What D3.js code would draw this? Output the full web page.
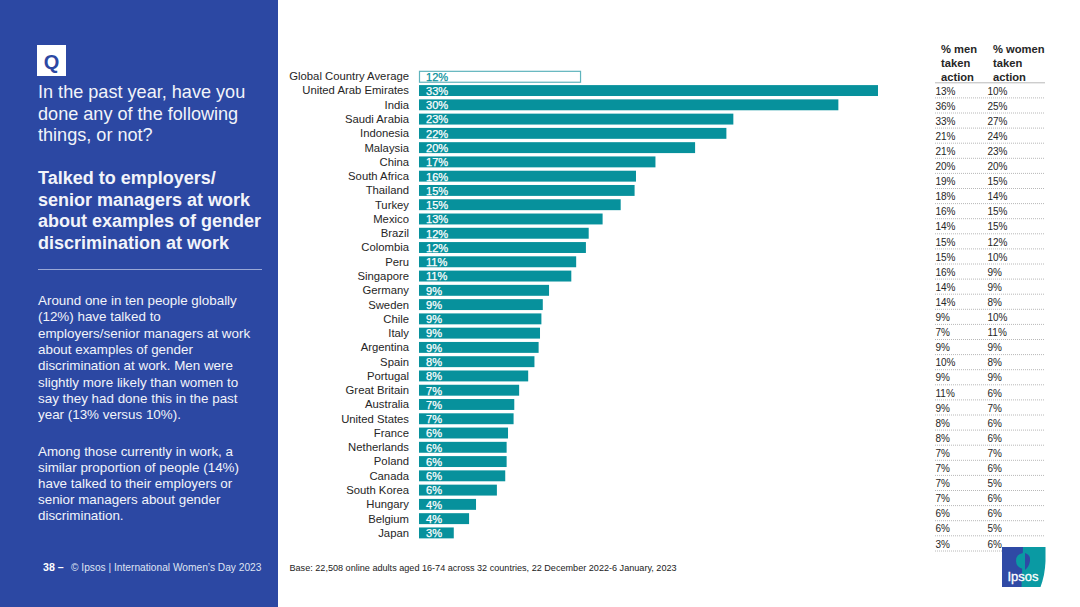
<!DOCTYPE html>
<html>
<head>
<meta charset="utf-8">
<script src="https://cdn.jsdelivr.net/npm/d3@7"></script>
<style>
  html, body { margin: 0; padding: 0; background: #fff; }
  svg { display: block; }
  text { font-family: "Liberation Sans", Arial, sans-serif; }
</style>
</head>
<body>
<div id="chart"></div>
<script>
// Data
var countries = ["Global Country Average", "United Arab Emirates", "India", "Saudi Arabia", "Indonesia", "Malaysia", "China", "South Africa", "Thailand", "Turkey", "Mexico", "Brazil", "Colombia", "Peru", "Singapore", "Germany", "Sweden", "Chile", "Italy", "Argentina", "Spain", "Portugal", "Great Britain", "Australia", "United States", "France", "Netherlands", "Poland", "Canada", "South Korea", "Hungary", "Belgium", "Japan"];
var barValues = [11.65, 33, 30.15, 22.6, 22.1, 19.85, 17, 15.6, 15.5, 14.5, 13.2, 12.2, 12, 11.3, 10.95, 9.35, 8.9, 8.8, 8.7, 8.6, 8.3, 7.85, 7.2, 6.85, 6.8, 6.4, 6.3, 6.3, 6.2, 5.6, 4.1, 3.6, 2.5];
var barLabels = ["12%", "33%", "30%", "23%", "22%", "20%", "17%", "16%", "15%", "15%", "13%", "12%", "12%", "11%", "11%", "9%", "9%", "9%", "9%", "9%", "8%", "8%", "7%", "7%", "7%", "6%", "6%", "6%", "6%", "6%", "4%", "4%", "3%"];
var menValues = [13, 36, 33, 21, 21, 20, 19, 18, 16, 14, 15, 15, 16, 14, 14, 9, 7, 9, 10, 9, 11, 9, 8, 8, 7, 7, 7, 7, 6, 6, 3];
var womenValues = [10, 25, 27, 24, 23, 20, 15, 14, 15, 15, 12, 10, 9, 9, 8, 10, 11, 9, 8, 9, 6, 7, 6, 6, 7, 6, 5, 6, 6, 5, 6];
var menHeader = ["% men", "taken", "action"];
var womenHeader = ["% women", "taken", "action"];

var questionLines = ["In the past year, have you", "done any of the following", "things, or not?"];
var topicLines = ["Talked to employers/", "senior managers at work", "about examples of gender", "discrimination at work"];
var bodyLines1 = ["Around one in ten people globally", "(12%) have talked to", "employers/senior managers at work", "about examples of gender", "discrimination at work. Men were", "slightly more likely than women to", "say they had done this in the past", "year (13% versus 10%)."];
var bodyLines2 = ["Among those currently in work, a", "similar proportion of people (14%)", "have talked to their employers or", "senior managers about gender", "discrimination."];

var blue = "#2c48a3";
var teal = "#07919c";

var svg = d3.select("#chart").append("svg")
    .attr("width", 1080)
    .attr("height", 607);

// Left panel
svg.append("rect").attr("width", 278).attr("height", 607).attr("fill", blue);

svg.append("rect").attr("x", 37).attr("y", 45).attr("width", 29).attr("height", 31).attr("fill", "#fff");
svg.append("text").attr("x", 51.5).attr("y", 68.5).attr("text-anchor", "middle")
    .attr("font-size", 20).attr("font-weight", "bold").attr("fill", blue).text("Q");

function textBlock(lines, x, y, lineHeight, size, weight) {
    svg.append("g").selectAll("text")
        .data(lines)
        .enter()
        .append("text")
        .attr("x", x)
        .attr("y", function (d, i) { return y + i * lineHeight; })
        .attr("font-size", size)
        .attr("font-weight", weight)
        .attr("fill", "#f2f4fa")
        .text(function (d) { return d; });
}

textBlock(questionLines, 38, 98, 21.7, 18.1, "normal");
textBlock(topicLines, 38, 184, 21.7, 18, "bold");
svg.append("line").attr("x1", 38).attr("x2", 262).attr("y1", 269.5).attr("y2", 269.5)
    .attr("stroke", "#9aa8d6").attr("stroke-width", 1);
textBlock(bodyLines1, 38, 305, 16.3, 13.4, "normal");
textBlock(bodyLines2, 38, 456, 16.1, 13.4, "normal");

// Footer
svg.append("text").attr("x", 43).attr("y", 571).attr("font-size", 10.6).attr("font-weight", "bold")
    .attr("fill", "#fff").text("38 \u2013");
svg.append("text").attr("x", 71).attr("y", 571).attr("font-size", 10.2)
    .attr("fill", "#dfe4f3").text("\u00a9 Ipsos | International Women\u2019s Day 2023");
svg.append("text").attr("x", 289.5).attr("y", 571).attr("font-size", 9.1)
    .attr("fill", "#222").text("Base: 22,508 online adults aged 16-74 across 32 countries, 22 December 2022-6 January, 2023");

// Bars
var x = d3.scaleLinear().domain([0, 33]).range([419, 878]);
var y = d3.scaleBand().domain(countries).range([69.4, 540.3]).paddingInner(0.2).paddingOuter(0.1);

var rows = svg.append("g").selectAll("g")
    .data(countries)
    .enter()
    .append("g")
    .attr("transform", function (d) { return "translate(0," + y(d) + ")"; });

rows.append("rect")
    .attr("x", function (d, i) { return i === 0 ? x(0) + 0.5 : x(0); })
    .attr("y", function (d, i) { return i === 0 ? 0.5 : 0; })
    .attr("width", function (d, i) { return x(barValues[i]) - x(0) - (i === 0 ? 1 : 0); })
    .attr("height", y.bandwidth() - 0.5)
    .attr("fill", function (d, i) { return i === 0 ? "#fff" : teal; })
    .attr("stroke", function (d, i) { return i === 0 ? "#5fb4bd" : "none"; })
    .attr("stroke-width", 1.2);

rows.append("text")
    .attr("x", 409)
    .attr("y", y.bandwidth() / 2 - 0.3)
    .attr("dy", "0.35em")
    .attr("text-anchor", "end")
    .attr("font-size", 11.3)
    .attr("fill", "#262626")
    .text(function (d) { return d; });

rows.append("text")
    .attr("x", 426)
    .attr("y", y.bandwidth() / 2 + 0.2)
    .attr("dy", "0.35em")
    .attr("font-size", 11.1)
    .attr("fill", function (d, i) { return i === 0 ? teal : "#fff"; })
    .attr("stroke", function (d, i) { return i === 0 ? teal : "#fff"; })
    .attr("stroke-width", 0.25)
    .text(function (d, i) { return barLabels[i]; });

// Side table
var rowIndex = d3.range(menValues.length);
var ty = d3.scalePoint().domain(rowIndex).range([91, 544]);

var header = svg.append("g");
[[menHeader, 941], [womenHeader, 993]].forEach(function (col) {
    header.selectAll(null)
        .data(col[0])
        .enter()
        .append("text")
        .attr("x", col[1])
        .attr("y", function (d, i) { return 53 + i * 13.8; })
        .attr("font-size", 11.2)
        .attr("font-weight", "bold")
        .attr("fill", "#262626")
        .text(function (d) { return d; });
});

var tableRows = svg.append("g").selectAll("g")
    .data(rowIndex)
    .enter()
    .append("g")
    .attr("transform", function (d) { return "translate(0," + ty(d) + ")"; });

tableRows.append("line")
    .attr("x1", 935).attr("x2", 1045)
    .attr("y1", -8.2).attr("y2", -8.2)
    .attr("stroke", "#b8b8b8")
    .attr("stroke-width", 1)
    .attr("stroke-dasharray", function (d) { return d === 0 ? null : "1 1"; });

tableRows.append("text")
    .attr("x", 935.5)
    .attr("dy", "0.35em")
    .attr("font-family", "Lato, sans-serif")
    .attr("font-size", 10)
    .attr("fill", "#262626")
    .text(function (d) { return menValues[d] + "%"; });

tableRows.append("text")
    .attr("x", 987.5)
    .attr("dy", "0.35em")
    .attr("font-family", "Lato, sans-serif")
    .attr("font-size", 10)
    .attr("fill", "#262626")
    .text(function (d) { return womenValues[d] + "%"; });

svg.append("line")
    .attr("x1", 935).attr("x2", 1045)
    .attr("y1", 551).attr("y2", 551)
    .attr("stroke", "#b8b8b8")
    .attr("stroke-dasharray", "1 1");

// Logo
var logo = svg.append("g").attr("transform", "translate(1002,547)");
logo.append("rect").attr("width", 21).attr("height", 40).attr("fill", "#2f4aa5");
logo.append("path").attr("d", "M21 0H43.5V14Q43 28 38.5 40H19.5Z").attr("fill", "#0a9aa3");
logo.append("path").attr("d", "M21 6Q14 7 14 14Q14 20 21 22Z").attr("fill", "#0a9aa3");
logo.append("path").attr("d", "M23 6Q29 8 28 14Q27 20 23 23Z").attr("fill", "#2f4aa5");
logo.append("text").attr("x", 21).attr("y", 33.5).attr("text-anchor", "middle")
    .attr("font-family", "Lato, sans-serif")
    .attr("font-size", 13).attr("fill", "#fff").attr("stroke", "#fff").attr("stroke-width", 0.3).text("Ipsos");
</script>
</body>
</html>
